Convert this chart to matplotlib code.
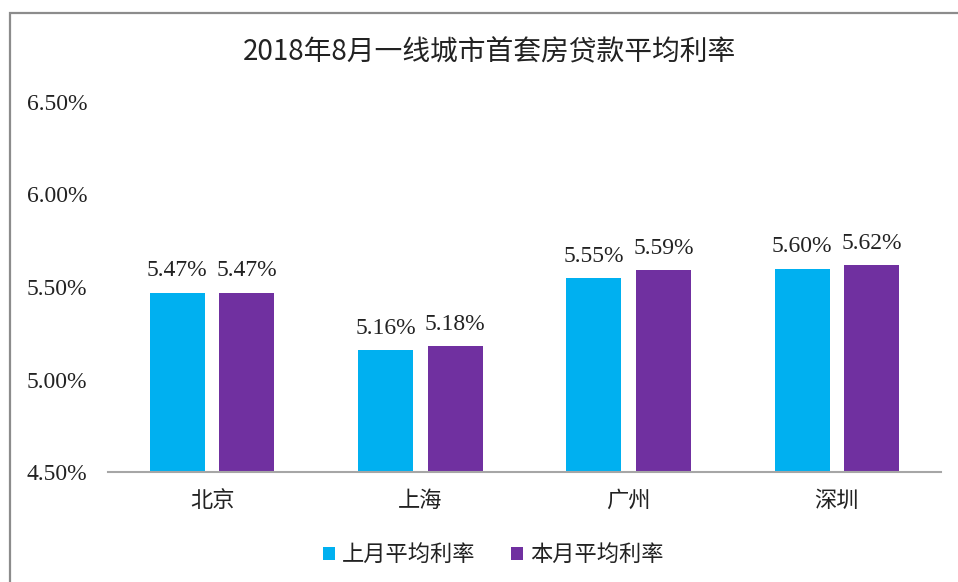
import matplotlib
matplotlib.use("Agg")
import matplotlib.pyplot as plt
import numpy as np
from matplotlib.patches import Rectangle
from matplotlib.ticker import FixedLocator, FuncFormatter

plt.rcParams['font.family'] = ['Noto Sans CJK SC', 'DejaVu Sans']

title = "2018年8月一线城市首套房贷款平均利率"
cities = ["北京", "上海", "广州", "深圳"]
series_names = ["上月平均利率", "本月平均利率"]
last_month = [5.47, 5.16, 5.55, 5.60]
this_month = [5.47, 5.18, 5.59, 5.62]
y_ticks = [4.5, 5.0, 5.5, 6.0, 6.5]
colors = ["#00B0F0", "#7030A0"]

num_font = ['Liberation Serif', 'Noto Sans CJK SC']

fig = plt.figure(figsize=(9.58, 5.82), dpi=100)
W, H = 958, 582

# outer frame
fig.patches.append(Rectangle((10 / W, -0.05), 1.2, (H - 13) / H + 0.05,
                             transform=fig.transFigure, fill=False,
                             edgecolor="#8C8C8C", linewidth=1.6, zorder=0))

ax = fig.add_axes([108 / W, (H - 472) / H, 833 / W, 370 / H])
x = np.arange(len(cities))
bw = 0.265
off = 0.167
b1 = ax.bar(x - off, last_month, bw, color=colors[0], label=series_names[0], zorder=2)
b2 = ax.bar(x + off, this_month, bw, color=colors[1], label=series_names[1], zorder=2)

ax.set_xlim(-0.5, len(cities) - 0.5)
ax.set_ylim(4.5, 6.5)
ax.yaxis.set_major_locator(FixedLocator(y_ticks))
ax.yaxis.set_major_formatter(FuncFormatter(lambda v, p: f"{v:.2f}%"))
for lbl in ax.get_yticklabels():
    lbl.set_family(num_font)
    lbl.set_fontsize(17)
    lbl.set_color("#222222")
ax.tick_params(axis='y', length=0, pad=15)
ax.set_xticks(x)
ax.set_xticklabels(cities, fontsize=16, color="#222222")
ax.tick_params(axis='x', length=0, pad=12)

for s in ["top", "right", "left"]:
    ax.spines[s].set_visible(False)
ax.spines["bottom"].set_color("#A6A6A6")
ax.spines["bottom"].set_linewidth(1.5)

for bars, vals in ((b1, last_month), (b2, this_month)):
    for rect, v in zip(bars, vals):
        ax.annotate(f"{v:.2f}%", (rect.get_x() + rect.get_width() / 2, v),
                    xytext=(0, 8), textcoords="offset points",
                    ha="center", va="bottom", fontsize=17,
                    family=num_font, color="#222222")

fig.text(489 / W, 1 - 52 / H, title, ha="center", va="center",
         fontsize=20, color="#222222")

leg = fig.legend(handles=[b1, b2], labels=series_names, loc="center",
                 bbox_to_anchor=(493 / W, 1 - 555 / H), ncol=2, frameon=False,
                 fontsize=16, handlelength=0.55, handleheight=0.55,
                 handletextpad=0.3, columnspacing=1.6)
for t in leg.get_texts():
    t.set_color("#222222")

fig.savefig("out.png", dpi=100)
